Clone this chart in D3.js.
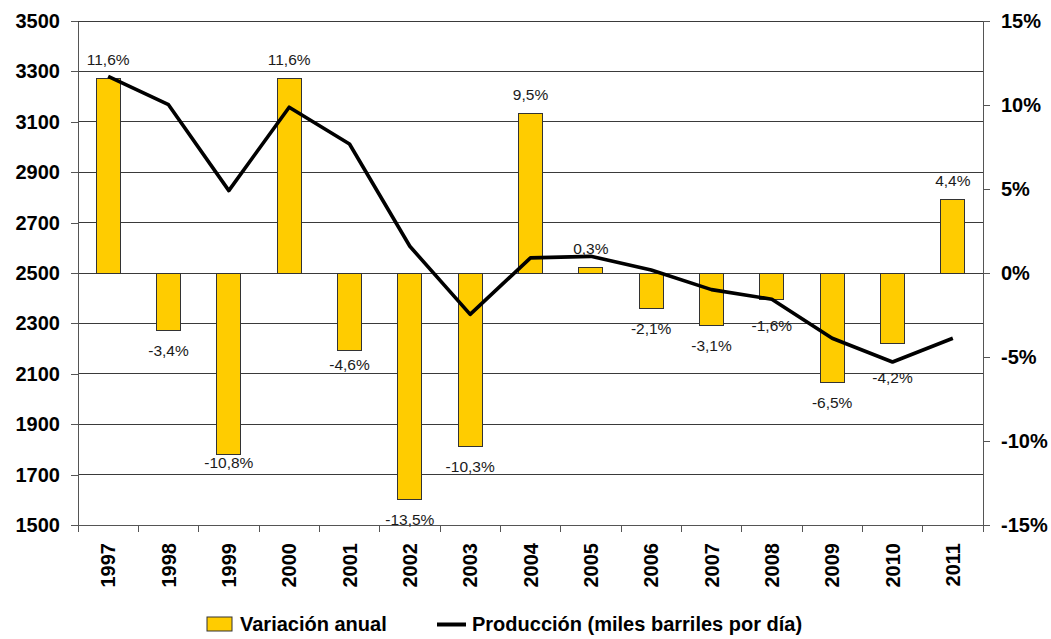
<!DOCTYPE html>
<html>
<head>
<meta charset="utf-8">
<script src="https://cdn.jsdelivr.net/npm/d3@7"></script>
<style>
  body { margin: 0; background: #fff; }
  svg { display: block; font-family: "Liberation Sans", Arial, sans-serif; }
</style>
</head>
<body>
<svg id="chart" width="1051" height="639"></svg>
<script>
// data
const years = ['1997','1998','1999','2000','2001','2002','2003','2004','2005','2006','2007','2008','2009','2010','2011'];
const variacion = [11.6, -3.4, -10.8, 11.6, -4.6, -13.5, -10.3, 9.5, 0.3, -2.1, -3.1, -1.6, -6.5, -4.2, 4.4];
const produccion = [3280, 3168, 2827, 3158, 3012, 2606, 2336, 2560, 2566, 2512, 2434, 2396, 2241, 2147, 2241];
const leftTicks = [1500, 1700, 1900, 2100, 2300, 2500, 2700, 2900, 3100, 3300, 3500];
const rightTicks = [-15, -10, -5, 0, 5, 10, 15];

const svg = d3.select('#chart');
const m = { top: 21, right: 68, bottom: 114, left: 78 };
const W = 1051 - m.left - m.right, H = 639 - m.top - m.bottom;

const x = d3.scaleBand().domain(years).range([m.left, m.left + W]);
const yL = d3.scaleLinear().domain([1500, 3500]).range([m.top + H, m.top]);
const yR = d3.scaleLinear().domain([-15, 15]).range([m.top + H, m.top]);

// gridlines
svg.append('g').selectAll('line').data(leftTicks).join('line')
  .attr('x1', m.left).attr('x2', m.left + W)
  .attr('y1', d => yL(d)).attr('y2', d => yL(d))
  .attr('stroke', '#3a3a3a').attr('shape-rendering', 'crispEdges');

// bars (variación anual, right axis)
const barW = x.bandwidth() * 0.4;
svg.append('g').selectAll('rect').data(variacion).join('rect')
  .attr('x', (d, i) => x(years[i]) + (x.bandwidth() - barW) / 2)
  .attr('y', d => yR(Math.max(0, d)))
  .attr('width', barW)
  .attr('height', d => Math.abs(yR(d) - yR(0)))
  .attr('fill', '#ffcc00').attr('stroke', '#333').attr('stroke-width', 1)
  .attr('shape-rendering', 'crispEdges');

// axes
const axL = svg.append('g').attr('transform', `translate(${m.left},0)`)
  .call(d3.axisLeft(yL).tickValues(leftTicks).tickFormat(d3.format('d'))
    .tickSize(7).tickSizeOuter(0).tickPadding(11));
const axR = svg.append('g').attr('transform', `translate(${m.left + W},0)`)
  .call(d3.axisRight(yR).tickValues(rightTicks).tickSize(7).tickSizeOuter(0).tickPadding(11)
    .tickFormat(d => d + '%'));
const axB = svg.append('g').attr('transform', `translate(0,${m.top + H})`)
  .call(d3.axisBottom(x).tickSize(0).tickSizeOuter(0));

[axL, axR, axB].forEach(a => {
  a.select('.domain').attr('stroke', '#555').attr('shape-rendering', 'crispEdges');
  a.selectAll('.tick line').attr('stroke', '#555').attr('shape-rendering', 'crispEdges');
  a.selectAll('text').attr('font-family', '"Liberation Sans", Arial, sans-serif')
    .attr('font-size', 20).attr('font-weight', 'bold').attr('fill', '#000');
});
axB.selectAll('.tick text')
  .attr('transform', 'rotate(-90)')
  .attr('text-anchor', 'end')
  .attr('x', -18).attr('y', 0).attr('dy', '0.36em');

// category boundary ticks on x axis
const bounds = years.map(d => x(d)).concat([m.left + W]);
svg.append('g').selectAll('line').data(bounds).join('line')
  .attr('x1', d => d).attr('x2', d => d)
  .attr('y1', m.top + H).attr('y2', m.top + H + 7)
  .attr('stroke', '#555').attr('shape-rendering', 'crispEdges');

// production line (left axis)
const line = d3.line()
  .x((d, i) => x(years[i]) + x.bandwidth() / 2)
  .y(d => yL(d));
svg.append('path').datum(produccion)
  .attr('d', line)
  .attr('fill', 'none').attr('stroke', '#000').attr('stroke-width', 3.6)
  .attr('stroke-linejoin', 'round');

// bar value labels
const nudge = { '1999': -12, '2001': -6, '2008': 6, '2010': 14 };
const fmt = d => d.toFixed(1).replace('.', ',') + '%';
svg.append('g').selectAll('text').data(variacion).join('text')
  .attr('x', (d, i) => x(years[i]) + x.bandwidth() / 2)
  .attr('y', (d, i) => d >= 0 ? yR(d) - 19 : yR(d) + 20 + (nudge[years[i]] || 0))
  .attr('text-anchor', 'middle').attr('dominant-baseline', 'central')
  .attr('font-size', 15.5).attr('fill', '#1a1a1a')
  .text(fmt);

// legend
const lg = svg.append('g').attr('font-size', 20).attr('font-weight', 'bold');
lg.append('rect').attr('x', 207).attr('y', 617).attr('width', 25).attr('height', 14)
  .attr('fill', '#ffcc00').attr('stroke', '#333');
lg.append('text').attr('x', 240).attr('y', 631).text('Variación anual');
lg.append('line').attr('x1', 437).attr('x2', 466).attr('y1', 624.5).attr('y2', 624.5)
  .attr('stroke', '#000').attr('stroke-width', 4);
lg.append('text').attr('x', 472).attr('y', 631).text('Producción (miles barriles por día)');
</script>
</body>
</html>
